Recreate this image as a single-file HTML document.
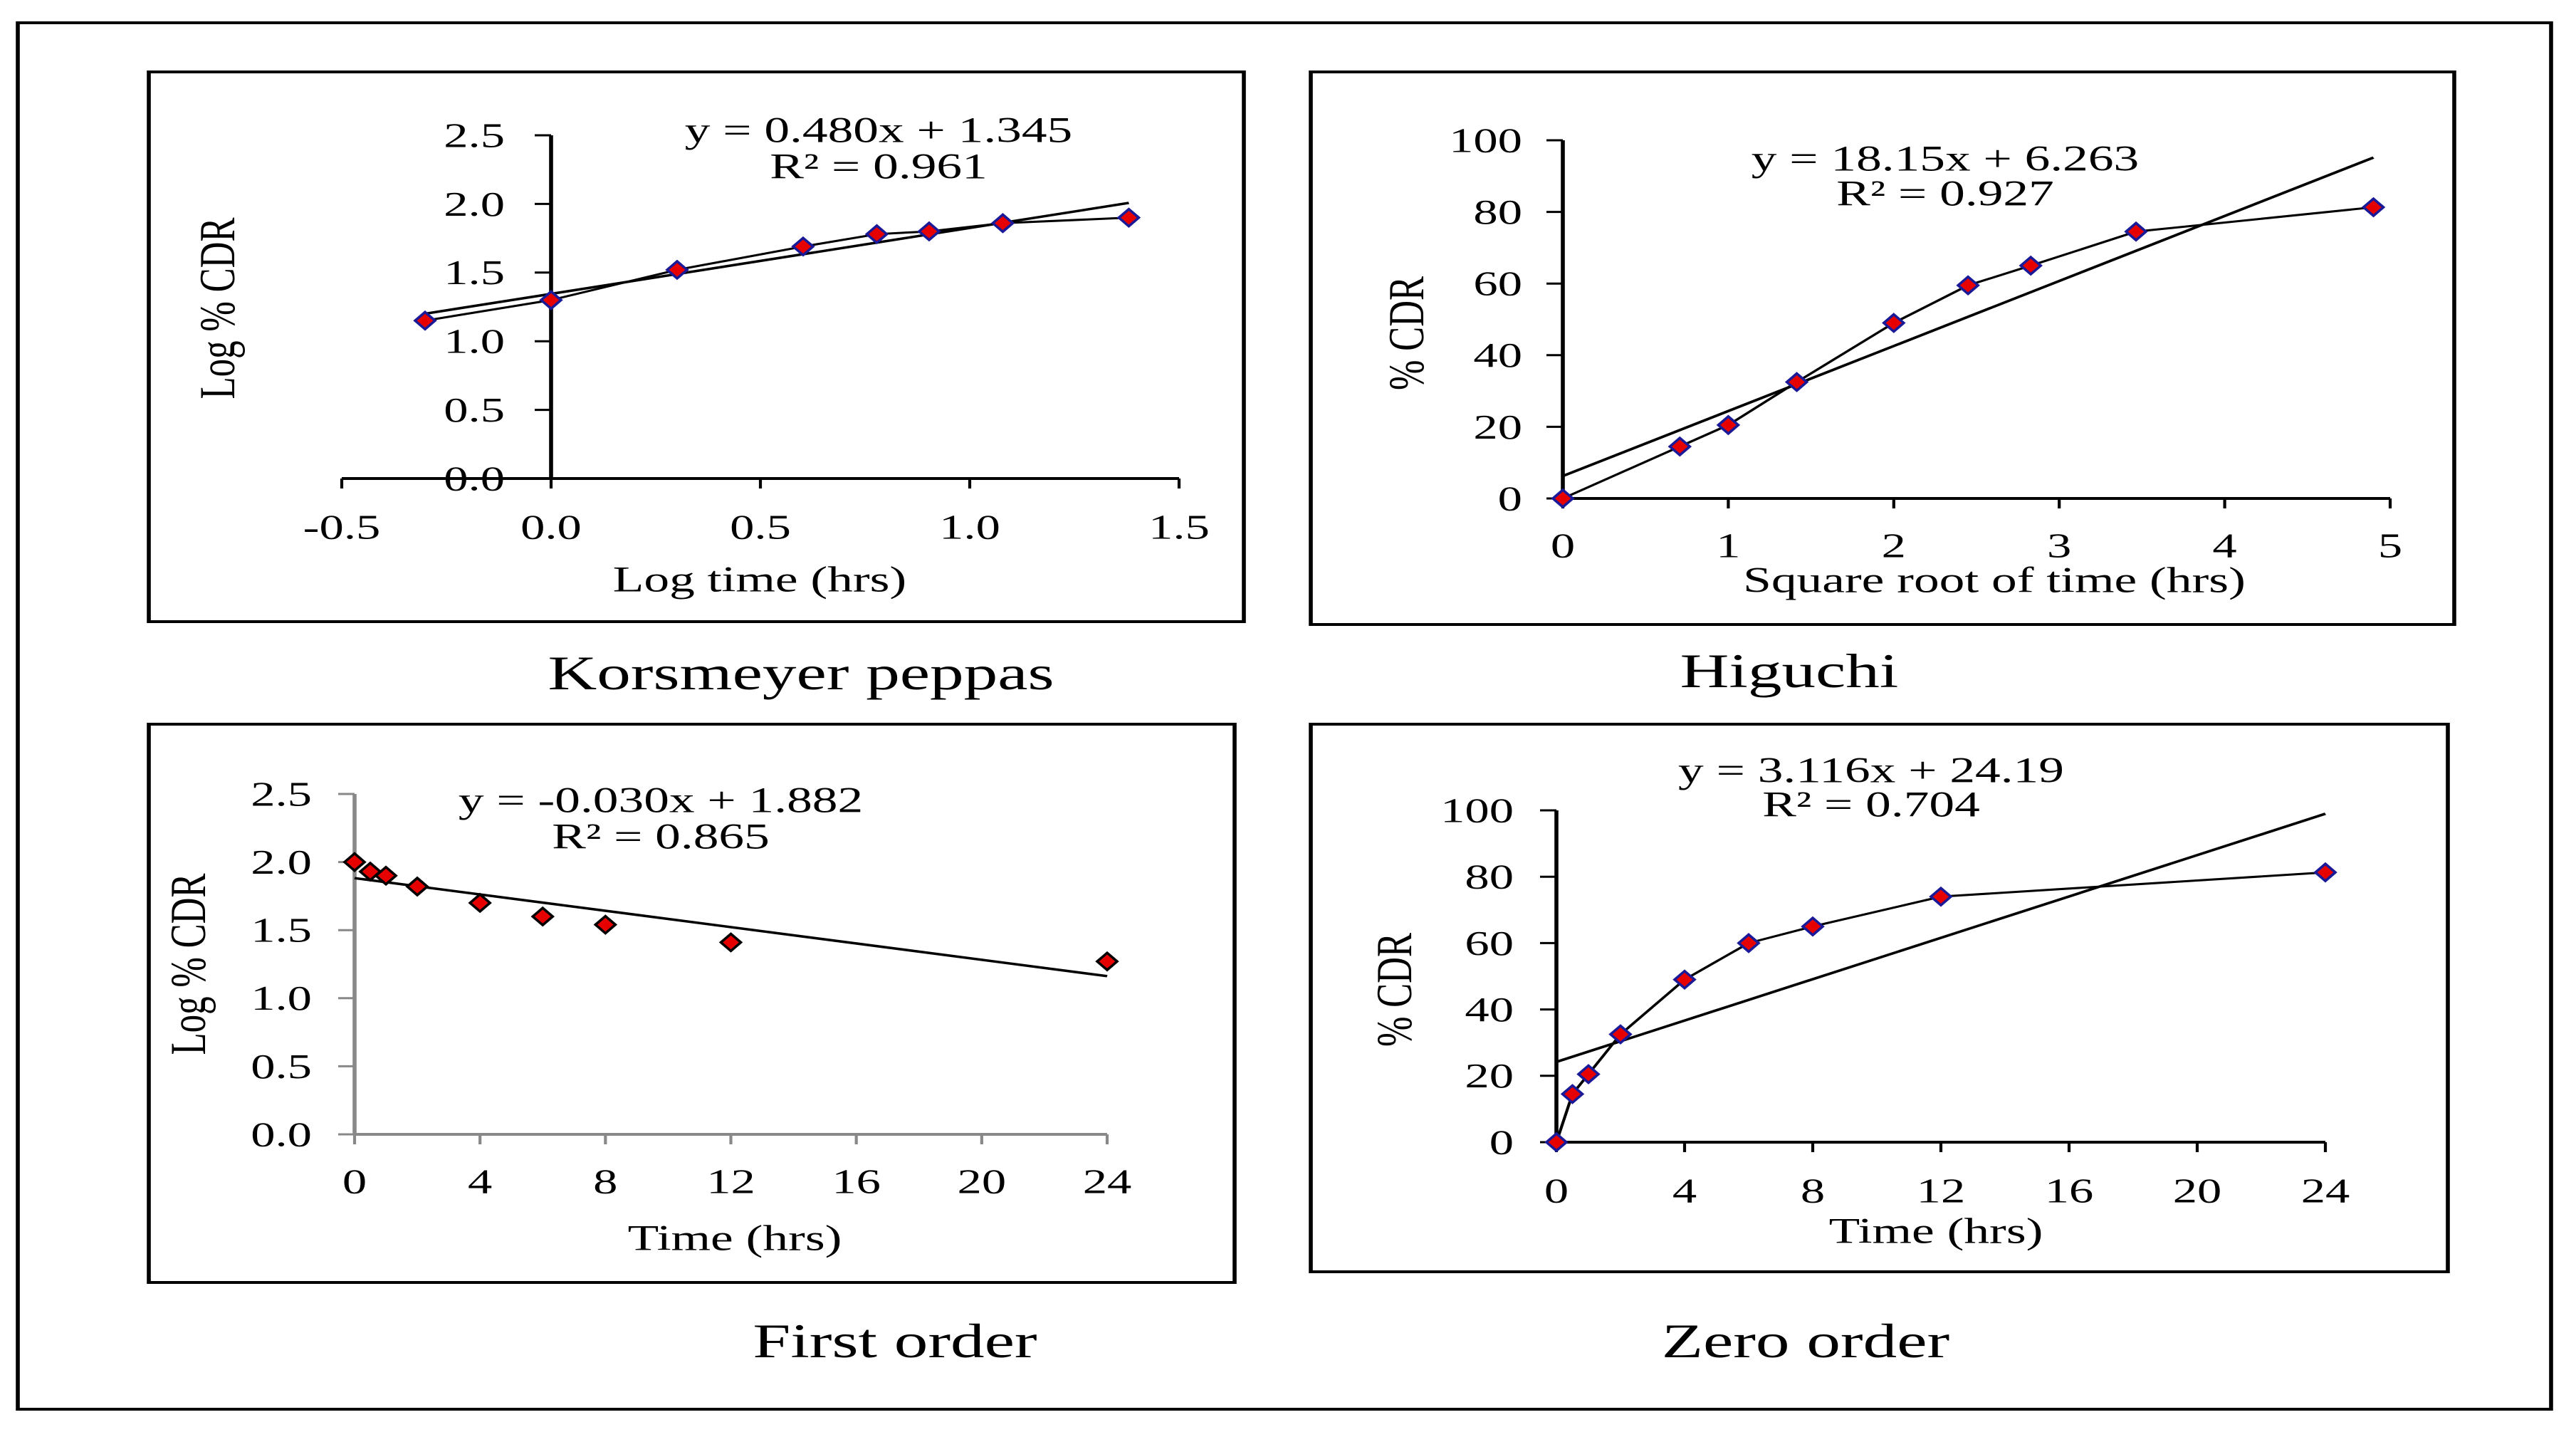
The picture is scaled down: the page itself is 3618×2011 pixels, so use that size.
<!DOCTYPE html>
<html><head><meta charset="utf-8"><style>
html,body{margin:0;padding:0;background:#fff;}
svg{display:block;}
text{font-family:"Liberation Serif",serif;fill:#000;}
</style></head><body>
<svg id="fig" xmlns="http://www.w3.org/2000/svg" width="3618" height="2011" viewBox="0 0 2584.2857 2011" preserveAspectRatio="none"></svg>
<script>
// ---- data ----
const kpX = [-0.301, 0, 0.301, 0.602, 0.778, 0.903, 1.079, 1.380];
const kpY = [1.15, 1.30, 1.52, 1.69, 1.78, 1.80, 1.86, 1.90];
const kpSlope = 0.480, kpInt = 1.345;
const hiX = [0, 0.707, 1, 1.414, 2, 2.449, 2.828, 3.464, 4.899];
const hiY = [0, 14.5, 20.5, 32.5, 49, 59.5, 65, 74.5, 81.3];
const hiSlope = 18.15, hiInt = 6.263;
const foX = [0, 0.5, 1, 2, 4, 6, 8, 12, 24];
const foY = [2.00, 1.93, 1.90, 1.82, 1.70, 1.60, 1.54, 1.41, 1.27];
const foSlope = -0.030, foInt = 1.882;
const zoX = [0, 0.5, 1, 2, 4, 6, 8, 12, 24];
const zoY = [0, 14.5, 20.5, 32.5, 49, 60, 65, 74, 81.3];
const zoSlope = 3.116, zoInt = 24.19;
const kpXTicks = [-0.5, 0, 0.5, 1.0, 1.5];
const kpYTicks = [0, 0.5, 1.0, 1.5, 2.0, 2.5];
const hiXTicks = [0, 1, 2, 3, 4, 5];
const pctTicks = [0, 20, 40, 60, 80, 100];
const hrTicks = [0, 4, 8, 12, 16, 20, 24];

const NS = "http://www.w3.org/2000/svg";
const svg = document.getElementById('fig');
const S = 1.4;
function el(tag, attrs, parent) {
  const e = document.createElementNS(NS, tag);
  for (const k in attrs) e.setAttribute(k, attrs[k]);
  (parent || svg).appendChild(e);
  return e;
}
function line(x1, y1, x2, y2, w, c, p, name) {
  const e = el('line', {x1: x1 / S, y1: y1, x2: x2 / S, y2: y2, stroke: c || '#000', 'stroke-width': w || 3}, p);
  
  
  return e;
}
function rect(x, y, w, h, sw, name) {
  const e = el('rect', {x: x / S, y: y, width: w / S, height: h, fill: 'none', stroke: '#000', 'stroke-width': sw});
  
  
}
function text(x, y, str, size, anchor, name, rot, p) {
  const a = {x: x / S, y: y, 'font-size': size, 'text-anchor': anchor || 'middle', 'dominant-baseline': 'central'};
  if (rot) a.transform = 'rotate(-90 ' + (x / S) + ' ' + y + ')';
  const e = el('text', a, p);
  e.textContent = str;
  
  
  return e;
}

rect(25, 32, 3558, 1947, 4, 'outer-frame');

function panel(cfg) {
  const g = el('g', {});
  
  
  rect(cfg.box[0], cfg.box[1], cfg.box[2] - cfg.box[0], cfg.box[3] - cfg.box[1], 4, cfg.name + '-frame');
  const xs = v => cfg.xp0 + (v - cfg.xmin) / (cfg.xmax - cfg.xmin) * (cfg.xp1 - cfg.xp0);
  const ys = v => cfg.yp0 + (v - cfg.ymin) / (cfg.ymax - cfg.ymin) * (cfg.yp1 - cfg.yp0);
  const ac = cfg.axisColor;
  const ax0 = xs(cfg.yAxisAt);
  line(xs(cfg.xTicks[0]), ys(0), xs(cfg.xTicks[cfg.xTicks.length - 1]), ys(0), 4, ac, g, 'x-axis');
  line(ax0, ys(cfg.yTicks[0]), ax0, ys(cfg.yTicks[cfg.yTicks.length - 1]), 4, ac, g, 'y-axis');
  cfg.yTicks.forEach(v => {
    line(ax0 - 23, ys(v), ax0, ys(v), 3, ac, g, 'y-tick');
    text(cfg.yLabR, ys(v), cfg.yFmt(v), 49, 'end', 'y-tick-label', false, g);
  });
  cfg.xTicks.forEach(v => {
    line(xs(v), ys(0), xs(v), ys(0) + 14, 3, ac, g, 'x-tick');
    text(xs(v), cfg.xLabY, cfg.xFmt(v), 49, 'middle', 'x-tick-label', false, g);
  });
  text(cfg.xTitle[0], cfg.xTitle[1], cfg.xTitle[2], 51, 'middle', 'x-axis-title', false, g);
  text(cfg.yTitle[0], cfg.yTitle[1], cfg.yTitle[2], 51, 'middle', 'y-axis-title', true, g);
  const t0 = cfg.xd[0], t1 = cfg.xd[cfg.xd.length - 1];
  line(xs(t0), ys(cfg.slope * t0 + cfg.inter), xs(t1), ys(cfg.slope * t1 + cfg.inter), 3.5, '#000', g, 'trendline');
  if (cfg.connect) {
    const pts = cfg.xd.map((v, i) => (xs(v) / S) + ',' + ys(cfg.yd[i])).join(' ');
    const pl = el('polyline', {points: pts, fill: 'none', stroke: '#000', 'stroke-width': 3}, g);
    
    
  }
  cfg.xd.forEach((v, i) => {
    const cx = xs(v) / S, cy = ys(cfg.yd[i]), hw = 14 / S, hh = 12;
    const d = el('polygon', {points: `${cx},${cy - hh} ${cx + hw},${cy} ${cx},${cy + hh} ${cx - hw},${cy}`, fill: '#e60000', stroke: cfg.mStroke, 'stroke-width': 3}, g);
    
    
  });
  text(cfg.eq[0], cfg.eq[1], cfg.eq[2], 51, 'middle', 'trend-equation', false, g);
  text(cfg.eq[0], cfg.eq[3], cfg.eq[4], 51, 'middle', 'r-squared', false, g);
  text(cfg.title[0], cfg.title[1], cfg.title[2], 68, 'middle', 'panel-title', false, g);
}

panel({name: 'korsmeyer-peppas-panel', box: [209, 101, 1747, 873],
  xp0: 480, xp1: 1656, xmin: -0.5, xmax: 1.5, yp0: 672, yp1: 190, ymin: 0, ymax: 2.5, yAxisAt: 0,
  xTicks: kpXTicks, yTicks: kpYTicks, xFmt: v => v.toFixed(1), yFmt: v => v.toFixed(1),
  yLabR: 709, xLabY: 740, axisColor: '#000',
  xTitle: [1067, 814, 'Log time (hrs)'], yTitle: [306, 433, 'Log % CDR'],
  xd: kpX, yd: kpY, slope: kpSlope, inter: kpInt, connect: true, mStroke: '#1a1a99',
  eq: [1234, 183, 'y = 0.480x + 1.345', 234, 'R² = 0.961'], title: [1125, 945, 'Korsmeyer peppas']});

panel({name: 'higuchi-panel', box: [1841, 101, 3447, 877],
  xp0: 2195, xp1: 3357, xmin: 0, xmax: 5, yp0: 700, yp1: 197, ymin: 0, ymax: 100, yAxisAt: 0,
  xTicks: hiXTicks, yTicks: pctTicks, xFmt: v => String(v), yFmt: v => String(v),
  yLabR: 2138, xLabY: 766, axisColor: '#000',
  xTitle: [2801, 815, 'Square root of time (hrs)'], yTitle: [1976, 468, '% CDR'],
  xd: hiX, yd: hiY, slope: hiSlope, inter: hiInt, connect: true, mStroke: '#1a1a99',
  eq: [2732, 223, 'y = 18.15x + 6.263', 272, 'R² = 0.927'], title: [2513, 942, 'Higuchi']});

panel({name: 'first-order-panel', box: [209, 1017, 1734, 1801],
  xp0: 498, xp1: 1555, xmin: 0, xmax: 24, yp0: 1593, yp1: 1115, ymin: 0, ymax: 2.5, yAxisAt: 0,
  xTicks: hrTicks, yTicks: kpYTicks, xFmt: v => String(v), yFmt: v => v.toFixed(1),
  yLabR: 438, xLabY: 1659, axisColor: '#888',
  xTitle: [1032, 1739, 'Time (hrs)'], yTitle: [265, 1354, 'Log % CDR'],
  xd: foX, yd: foY, slope: foSlope, inter: foInt, connect: false, mStroke: '#000',
  eq: [928, 1124, 'y = -0.030x + 1.882', 1175, 'R² = 0.865'], title: [1257, 1883, 'First order']});

panel({name: 'zero-order-panel', box: [1841, 1017, 3438, 1786],
  xp0: 2186, xp1: 3266, xmin: 0, xmax: 24, yp0: 1604, yp1: 1138, ymin: 0, ymax: 100, yAxisAt: 0,
  xTicks: hrTicks, yTicks: pctTicks, xFmt: v => String(v), yFmt: v => String(v),
  yLabR: 2126, xLabY: 1672, axisColor: '#000',
  xTitle: [2719, 1729, 'Time (hrs)'], yTitle: [1959, 1390, '% CDR'],
  xd: zoX, yd: zoY, slope: zoSlope, inter: zoInt, connect: true, mStroke: '#1a1a99',
  eq: [2628, 1082, 'y = 3.116x + 24.19', 1130, 'R² = 0.704'], title: [2536, 1883, 'Zero order']});
</script>
</body></html>
